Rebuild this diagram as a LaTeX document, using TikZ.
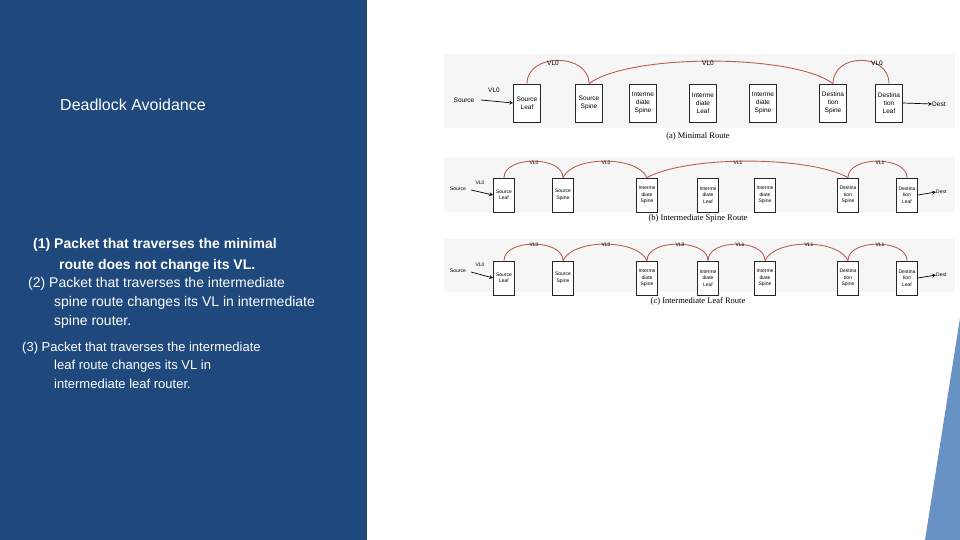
\documentclass[tikz,border=0pt]{standalone}
\usepackage{fontspec}
\setmainfont{Liberation Sans}
\newfontfamily\capfont{Liberation Serif}
\definecolor{panel}{RGB}{31,73,125}
\definecolor{tri}{RGB}{104,145,196}
\definecolor{arcc}{RGB}{185,95,85}
\begin{document}
\begin{tikzpicture}[x=1pt,y=-1pt,
  txt/.style={anchor=west,text=white,inner sep=0pt,font=\fontsize{14}{16}\selectfont},
  bx/.style={draw=black!85,line width=0.8pt,fill=white,minimum width=27pt,minimum height=38pt,inner sep=0pt,align=center,font=\fontsize{6.5}{8}\selectfont},
  bxs/.style={bx,minimum width=21pt,minimum height=34pt,font=\fontsize{5}{6.5}\selectfont},
  vlarc/.style={draw=arcc,line width=0.9pt},
  lab/.style={font=\fontsize{6.5}{8}\selectfont,inner sep=0pt},
  labs/.style={font=\fontsize{5}{6}\selectfont,inner sep=0pt},
  capt/.style={font=\capfont\fontsize{8.5}{10}\selectfont,inner sep=0pt},
  arr/.style={->,>=stealth,line width=0.7pt}]
\useasboundingbox (0,0) rectangle (960,540);
\fill[white] (0,0) rectangle (960,540);
\fill[panel] (0,0) rectangle (367,540);
\fill[tri] (960,318) -- (925,540) -- (960,540) -- cycle;
\fill[gray!7] (444,54) rectangle (955,128);
\fill[gray!7] (444,157) rectangle (955,212);
\fill[gray!7] (444,239) rectangle (955,292);

\node[txt,font=\fontsize{16}{18}\selectfont] (title) at (60,105) {Deadlock Avoidance};
\node[txt,font=\bfseries\fontsize{14}{16}\selectfont] (t1a) at (33,245) {(1) Packet that traverses the minimal};
\node[txt,font=\bfseries\fontsize{14}{16}\selectfont] (t1b) at (59,266) {route does not change its VL.};
\node[txt] (t2a) at (28,284) {(2) Packet that traverses the intermediate};
\node[txt] (t2b) at (54,303) {spine route changes its VL in intermediate};
\node[txt] (t2c) at (54,322) {spine router.};
\node[txt,font=\fontsize{13}{15}\selectfont] (t3a) at (22,348) {(3) Packet that traverses the intermediate};
\node[txt,font=\fontsize{13}{15}\selectfont] (t3b) at (54,366) {leaf route changes its VL in};
\node[txt,font=\fontsize{13}{15}\selectfont] (t3c) at (54,384) {intermediate leaf router.};

% (a)
\node[bx] (a1) at (527,103) {Source\\Leaf};
\node[bx] (a2) at (589,103) {Source\\Spine};
\node[bx] (a3) at (643,103) {Interme\\diate\\Spine};
\node[bx] (a4) at (703,103) {Interme\\diate\\Leaf};
\node[bx] (a5) at (763,103) {Interme\\diate\\Spine};
\node[bx] (a6) at (833,103) {Destina\\tion\\Spine};
\node[bx] (a7) at (889,103) {Destina\\tion\\Leaf};
\node[lab] (as) at (464,100) {Source};
\node[lab,anchor=west] (adt) at (932,104) {Dest};
\node[lab] (av) at (494,90) {VL0};
\coordinate (asx) at (481,100);
\draw[arr] (asx) -- (a1.west);
\draw[arr] (a7.east) -- (adt.west);
\draw[vlarc] (a1.north) .. controls +(0,-31) and +(0,-31) .. (a2.north);
\draw[vlarc] (a2.north) .. controls +(40,-30) and +(-40,-30) .. (a6.north);
\draw[vlarc] (a6.north) .. controls +(0,-31) and +(0,-31) .. (a7.north);
\node[lab] (al1) at (553,63) {VL0};
\node[lab] (al2) at (708,63) {VL0};
\node[lab] (al3) at (877,63) {VL0};
\node[capt] (ac) at (698,136) {(a) Minimal Route};

% (b) and (c) boxes
\foreach \n/\x/\t in {1/504/Source\\Leaf,2/563/Source\\Spine,3/647/Interme\\diate\\Spine,4/708/Interme\\diate\\Leaf,5/765/Interme\\diate\\Spine,6/848/Destina\\tion\\Spine,7/907/Destina\\tion\\Leaf}{
  \node[bxs] (b\n) at (\x,195) {\t};
  \node[bxs] (c\n) at (\x,278) {\t};
}
\node[labs] (bs) at (458,189) {Source};
\node[labs] (bv) at (480,183) {VL0};
\node[labs,anchor=west] (bd) at (936,192) {Dest};
\coordinate (bsx) at (471,190);
\draw[arr] (bsx) -- (b1.west);
\draw[arr] (b7.east) -- (bd.west);
\draw[vlarc] (b1.north) .. controls +(0,-22) and +(0,-22) .. (b2.north);
\draw[vlarc] (b2.north) .. controls +(10,-22) and +(-10,-22) .. (b3.north);
\draw[vlarc] (b3.north) .. controls +(40,-22) and +(-40,-22) .. (b6.north);
\draw[vlarc] (b6.north) .. controls +(0,-22) and +(0,-22) .. (b7.north);
\node[labs] (bl1) at (534,163) {VL0};
\node[labs] (bl2) at (606,163) {VL0};
\node[labs] (bl3) at (738,163) {VL1};
\node[labs] (bl4) at (880,163) {VL1};
\node[capt] (bc) at (698,218) {(b) Intermediate Spine Route};

% (c)
\node[labs] (cs) at (458,271) {Source};
\node[labs] (cv) at (480,265) {VL0};
\node[labs,anchor=west] (cd) at (936,275) {Dest};
\coordinate (csx) at (471,272);
\draw[arr] (csx) -- (c1.west);
\draw[arr] (c7.east) -- (cd.west);
\draw[vlarc] (c1.north) .. controls +(0,-22) and +(0,-22) .. (c2.north);
\draw[vlarc] (c2.north) .. controls +(10,-22) and +(-10,-22) .. (c3.north);
\draw[vlarc] (c3.north) .. controls +(0,-22) and +(0,-22) .. (c4.north);
\draw[vlarc] (c4.north) .. controls +(0,-22) and +(0,-22) .. (c5.north);
\draw[vlarc] (c5.north) .. controls +(10,-22) and +(-10,-22) .. (c6.north);
\draw[vlarc] (c6.north) .. controls +(0,-22) and +(0,-22) .. (c7.north);
\node[labs] (cl1) at (534,245) {VL0};
\node[labs] (cl2) at (606,245) {VL0};
\node[labs] (cl3) at (680,245) {VL0};
\node[labs] (cl4) at (740,245) {VL1};
\node[labs] (cl5) at (809,245) {VL1};
\node[labs] (cl6) at (880,245) {VL1};
\node[capt] (cc) at (698,301) {(c) Intermediate Leaf Route};
\end{tikzpicture}
\end{document}
